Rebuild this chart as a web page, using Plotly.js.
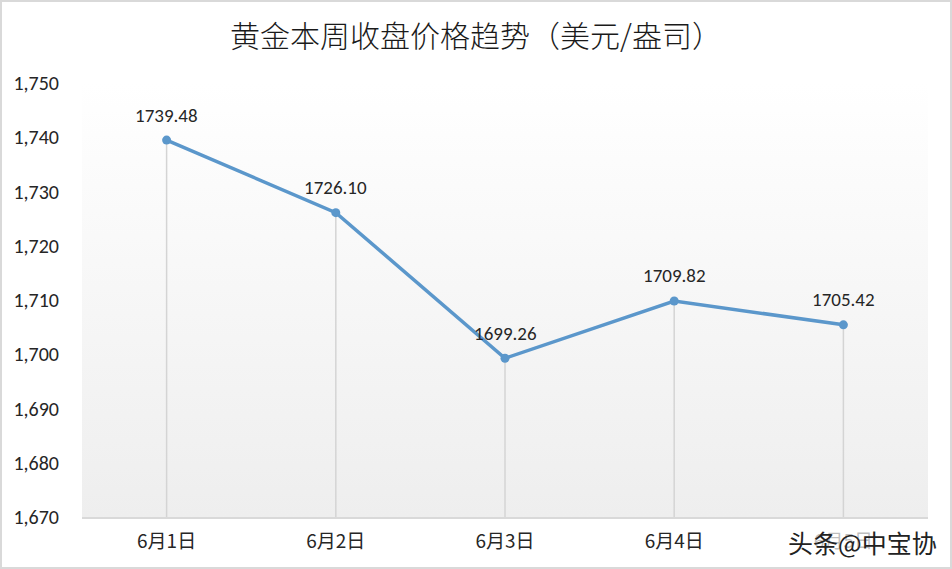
<!DOCTYPE html>
<html>
<head>
<meta charset="utf-8">
<script src="https://cdn.plot.ly/plotly-3.0.1.min.js"></script>
<style>
html,body{margin:0;padding:0;background:#fff;}
#chart{width:952px;height:569px;outline:2px solid #d9d9d9;outline-offset:-2px;}
</style>
</head>
<body>
<div id="chart"></div>
<script>
const categories = ['6月1日','6月2日','6月3日','6月4日','6月5日'];
const prices = [1739.48, 1726.10, 1699.26, 1709.82, 1705.42];
const priceLabels = ['1739.48','1726.10','1699.26','1709.82','1705.42'];
const yMin = 1670, yMax = 1750;
const yTicks = [1670,1680,1690,1700,1710,1720,1730,1740,1750];

// drop lines built from data
const dropX = [], dropY = [];
categories.forEach((c,i)=>{ dropX.push(c,c,null); dropY.push(yMin,prices[i],null); });

const bg = {
  x:[0,1,1,0,0], y:[0,0,1,1,0], xaxis:'x', yaxis:'y',
  type:'scatter', mode:'lines', fill:'toself', line:{width:0},
  fillgradient:{type:'vertical', colorscale:[[0,'#eeeeee'],[1,'#ffffff']]},
  hoverinfo:'skip', showlegend:false
};

const drops = {
  x:dropX, y:dropY, xaxis:'x2', yaxis:'y2', type:'scatter', mode:'lines',
  line:{color:'#d4d4d4', width:1.5}, hoverinfo:'skip', showlegend:false
};

const line = {
  x:categories, y:prices, xaxis:'x2', yaxis:'y2', type:'scatter', mode:'lines+markers',
  line:{color:'#5b97cb', width:3.5},
  marker:{color:'#5b97cb', size:9},
  cliponaxis:false, showlegend:false
};

const labelFont = {family:'Calibri, Carlito, "Liberation Sans", sans-serif', size:19, color:'#262626'};
const annotations = categories.map((c,i)=>({
  x:c, y:prices[i], xref:'x2', yref:'y2', text:priceLabels[i], showarrow:false,
  yshift:25, yanchor:'middle', xanchor:'center', font:labelFont
}));
annotations.push({text:'头条@中宝协', xref:'paper', yref:'paper', x:1.013, y:-0.058, xanchor:'right', yanchor:'middle',
    showarrow:false, bgcolor:'rgba(255,255,255,0.7)',
    font:{family:'"Noto Sans CJK SC", sans-serif', size:25, color:'#222'}});

const layout = {
  width:952, height:569,
  margin:{l:82, r:24, t:83, b:52},
  paper_bgcolor:'rgba(0,0,0,0)', plot_bgcolor:'rgba(0,0,0,0)',
  title:{text:'黄金本周收盘价格趋势（美元/盎司）', x:0.5, xref:'container', xanchor:'center', y:0.935, yanchor:'middle',
    font:{family:'"Noto Sans CJK SC", sans-serif', size:30, weight:300, color:'#1a1a1a'}},
  xaxis:{range:[0,1], visible:false, fixedrange:true},
  yaxis:{range:[0,1], visible:false, fixedrange:true},
  xaxis2:{type:'category', range:[-0.5,4.5], overlaying:'x', showgrid:false, zeroline:false,
    showline:true, linecolor:'#d9d9d9', linewidth:1.5, ticks:'', ticklabelstandoff:7,
    tickfont:{family:'"Noto Sans CJK SC", sans-serif', size:19, color:'#262626'}, fixedrange:true},
  yaxis2:{range:[yMin,yMax], overlaying:'y', side:'left', tickvals:yTicks, tickformat:',d', showgrid:false, zeroline:false,
    showline:false, ticks:'', ticklabelstandoff:22,
    tickfont:{family:'Calibri, Carlito, "Liberation Sans", sans-serif', size:20, color:'#262626'}},
  annotations:annotations,
  showlegend:false
};

Plotly.newPlot('chart', [bg, drops, line], layout, {displayModeBar:false, staticPlot:true});
</script>
</body>
</html>
